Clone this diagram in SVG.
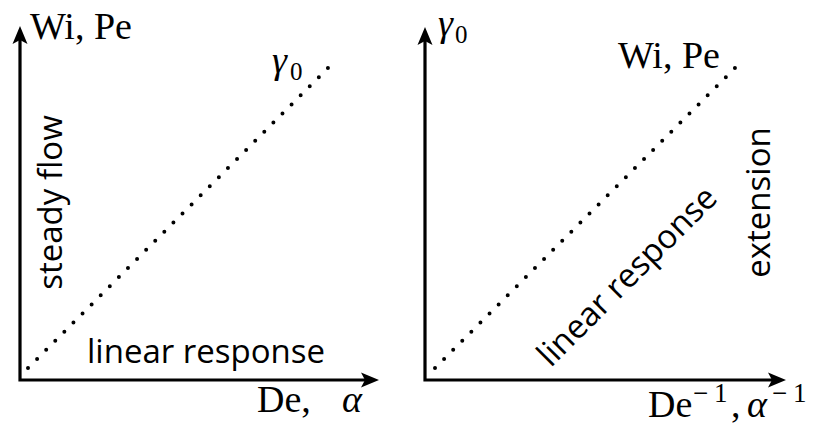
<svg xmlns="http://www.w3.org/2000/svg" width="815" height="427" viewBox="0 0 815 427">
  <style>
    .axis { stroke: #000; stroke-width: 3.2; fill: none; }
    .head { fill: #000; stroke: none; }
    .dots { stroke: #000; stroke-width: 4; stroke-linecap: round; stroke-dasharray: 0 12.853; fill: none; }
    .sans { font-family: "Open Sans", "Noto Sans", sans-serif; font-size: 33px; fill: #000; }
    .math { font-family: "Liberation Serif", "Times New Roman", serif; font-size: 38px; fill: #000; }
    .it { font-style: italic; }
    .sub { font-size: 25px; }
    .sup { font-size: 27px; }
  </style>
  <defs>
    <path id="ahUp" d="M0,0 L-7.5,18 L0,14 L7.5,18 Z"/>
    <path id="ahRight" d="M0,0 L-18,-7.5 L-14,0 L-18,7.5 Z"/>
  </defs>

  <g id="connectors">
    <!-- left panel axes -->
    <path class="axis" d="M20,381.5 V38 M18.5,380 H366"/>
    <use href="#ahUp" class="head" x="20" y="26"/>
    <use href="#ahRight" class="head" x="379" y="380"/>
    <!-- right panel axes -->
    <path class="axis" d="M425,381.5 V39 M423.5,380 H773"/>
    <use href="#ahUp" class="head" x="425" y="27"/>
    <use href="#ahRight" class="head" x="786" y="380"/>
    <!-- dotted diagonals -->
    <path class="dots" d="M28,368 L337,59"/>
    <path class="dots" d="M435,368 L744,59"/>
  </g>

  <g id="left-ylabel">
    <text class="math" x="30" y="39">Wi, Pe</text>
  </g>
  <g id="left-xlabel">
    <text class="math" x="257" y="412">De, <tspan class="it" x="342">α</tspan></text>
  </g>
  <g id="left-gamma">
    <text class="math" x="272" y="73"><tspan class="it">γ</tspan><tspan class="sub" x="290" y="80">0</tspan></text>
  </g>
  <g id="steady-flow">
    <text class="sans" text-anchor="middle" transform="translate(62,202.5) rotate(-90)">steady flow</text>
  </g>
  <g id="left-linear-response">
    <text class="sans" x="87" y="363">linear response</text>
  </g>

  <g id="right-ylabel">
    <text class="math" x="438" y="36"><tspan class="it">γ</tspan><tspan class="sub" x="455" y="43">0</tspan></text>
  </g>
  <g id="right-wipe">
    <text class="math" x="618" y="68">Wi, Pe</text>
  </g>
  <g id="right-xlabel">
    <text class="math" x="648" y="417">De<tspan class="sup" x="693" y="402">−</tspan><tspan class="sup" x="714" y="402">1</tspan><tspan x="731" y="417">,</tspan><tspan class="it" x="747" y="417">α</tspan><tspan class="sup" x="772" y="402">−</tspan><tspan class="sup" x="793" y="402">1</tspan></text>
  </g>
  <g id="right-linear-response">
    <text class="sans" text-anchor="middle" transform="translate(635,284) rotate(-45)">linear response</text>
  </g>
  <g id="extension">
    <text class="sans" text-anchor="middle" transform="translate(770,202.5) rotate(-90)">extension</text>
  </g>
</svg>
